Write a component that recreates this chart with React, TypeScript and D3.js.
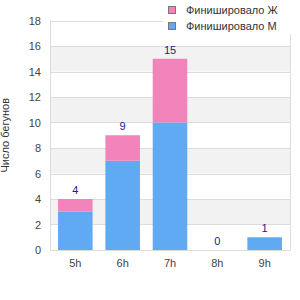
import React from "react";
import * as d3 from "d3";

const categories = ["5h", "6h", "7h", "8h", "9h"];
const male = [3, 7, 10, 0, 1];
const female = [1, 2, 5, 0, 0];
const seriesNames = ["Финишировало Ж", "Финишировало М"];
const yTicks = [0, 2, 4, 6, 8, 10, 12, 14, 16, 18];

export default function App() {
  const W = 300, H = 300;
  const left = 50, right = 290, top = 20.5, bottom = 250;
  const x = d3.scaleBand().domain(categories).range([left, right]).paddingInner(0.27).paddingOuter(0.17);
  const y = d3.scaleLinear().domain([0, 18]).range([bottom, top]);
  const font = "Arial, 'Liberation Sans', sans-serif";
  const pink = "#f383bb";
  const blue = "#60a9f3";
  const bands = [];
  for (let i = 0; i < yTicks.length - 1; i++) {
    if (i % 2 === 1) bands.push([yTicks[i], yTicks[i + 1]]);
  }
  return (
    <svg width={W} height={H} style={{ position: "absolute", left: 0, top: 0 }} fontFamily={font}>
      <rect x={0} y={0} width={W} height={H} fill="#fff" />
      {bands.map(([a, b], i) => (
        <rect key={i} x={left} y={y(b)} width={right - left} height={y(a) - y(b)} fill="#f2f2f2" />
      ))}
      {yTicks.map((t) => (
        <line key={t} x1={left} x2={right} y1={Math.round(y(t)) + 0.5} y2={Math.round(y(t)) + 0.5} stroke="#dcdcdc" />
      ))}
      <line x1={left + 0.5} x2={left + 0.5} y1={top} y2={bottom} stroke="#dcdcdc" />
      <line x1={right + 0.5} x2={right + 0.5} y1={top} y2={bottom + 0.5} stroke="#dcdcdc" />
      {yTicks.map((t) => (
        <text key={t} x={41} y={y(t) + 4} textAnchor="end" fontSize={11} fill="#444">{t}</text>
      ))}
      {categories.map((c, i) => {
        const bx = x(c)!;
        const bw = x.bandwidth();
        const total = male[i] + female[i];
        return (
          <g key={c}>
            {male[i] > 0 && <rect x={bx} y={y(male[i])} width={bw} height={y(0) - y(male[i])} fill={blue} />}
            {female[i] > 0 && <rect x={bx} y={y(total)} width={bw} height={y(male[i]) - y(total)} fill={pink} />}
            <text x={bx + bw / 2} y={y(total) - 5} textAnchor="middle" fontSize={11} fill="#1a1a8c">{total}</text>
            <text x={bx + bw / 2} y={267} textAnchor="middle" fontSize={11} fill="#444">{c}</text>
          </g>
        );
      })}
      <text transform={`translate(9,${(top + bottom) / 2}) rotate(-90)`} textAnchor="middle" fontSize={11} fill="#333">Число бегунов</text>
      <rect x={163} y={0} width={137} height={34} fill="#fff" />
      {seriesNames.map((s, i) => (
        <g key={s}>
          <rect x={168.5} y={6.5 + i * 16} width={7} height={7} fill={i === 0 ? pink : blue} stroke="#777" />
          <text x={186} y={14 + i * 16} fontSize={11} fill="#333">{s}</text>
        </g>
      ))}
    </svg>
  );
}
